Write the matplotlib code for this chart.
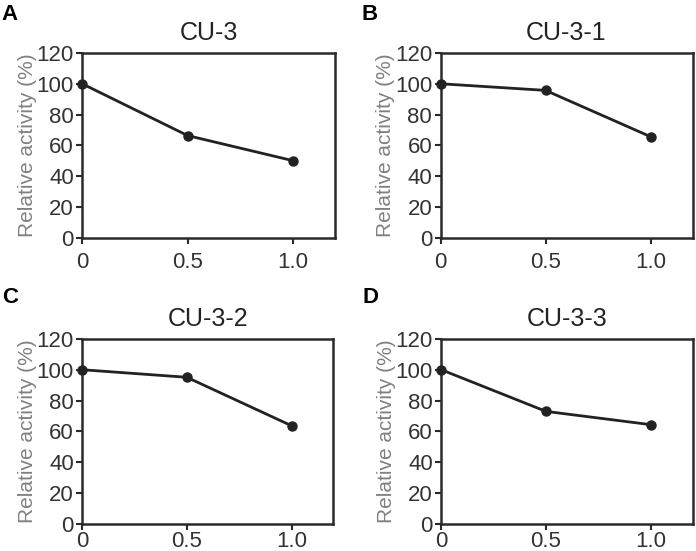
import matplotlib.pyplot as plt

plt.rcParams['font.family'] = ['Liberation Sans', 'DejaVu Sans']

# concentration (x) and relative activity (%) for each compound
conc = [0, 0.5, 1.0]
cu3 = [100, 66.4, 50.1]
cu3_1 = [100, 95.7, 65.7]
cu3_2 = [100, 95.1, 63.7]
cu3_3 = [100, 73.0, 64.4]

titles = ["CU-3", "CU-3-1", "CU-3-2", "CU-3-3"]
letters = ["A", "B", "C", "D"]
series = [cu3, cu3_1, cu3_2, cu3_3]
yticks = [0, 20, 40, 60, 80, 100, 120]
xticks = [0, 0.5, 1.0]
xticklabels = ["0", "0.5", "1.0"]

fig = plt.figure(figsize=(6.96, 5.51), dpi=100)

# axes boxes in figure fractions [left, bottom, width, height]
boxes = [
    [0.118, 0.568, 0.364, 0.336],
    [0.633, 0.568, 0.362, 0.336],
    [0.118, 0.049, 0.361, 0.336],
    [0.634, 0.049, 0.361, 0.336],
]
letter_pos = [(0.002, 0.992), (0.519, 0.992), (0.003, 0.480), (0.521, 0.480)]
xpads = [6, 6, 1, 1]

for box, title, letter, vals, lp, xp in zip(boxes, titles, letters, series, letter_pos, xpads):
    ax = fig.add_axes(box)
    ax.plot(conc, vals, color="#222222", lw=2, marker="o", ms=6.5, clip_on=False, zorder=3)
    ax.set_xlim(0, 1.2)
    ax.set_ylim(0, 120)
    ax.set_xticks(xticks)
    ax.set_xticklabels(xticklabels)
    ax.set_yticks(yticks)
    for s in ax.spines.values():
        s.set_color("#2a2a2a")
        s.set_linewidth(1.8)
    ax.tick_params(direction="out", length=4, width=1.5, color="#2a2a2a",
                   labelsize=16, labelcolor="#333333")
    ax.tick_params(axis="y", pad=2)
    ax.tick_params(axis="x", pad=xp)
    ax.set_ylabel("Relative activity (%)", fontsize=15, color="#808080", labelpad=0)
    ax.set_title(title, fontsize=18, color="#222222", pad=9)
    fig.text(lp[0], lp[1], letter, fontsize=16, fontweight="bold", va="top", ha="left")

fig.savefig("out.png", dpi=100)
